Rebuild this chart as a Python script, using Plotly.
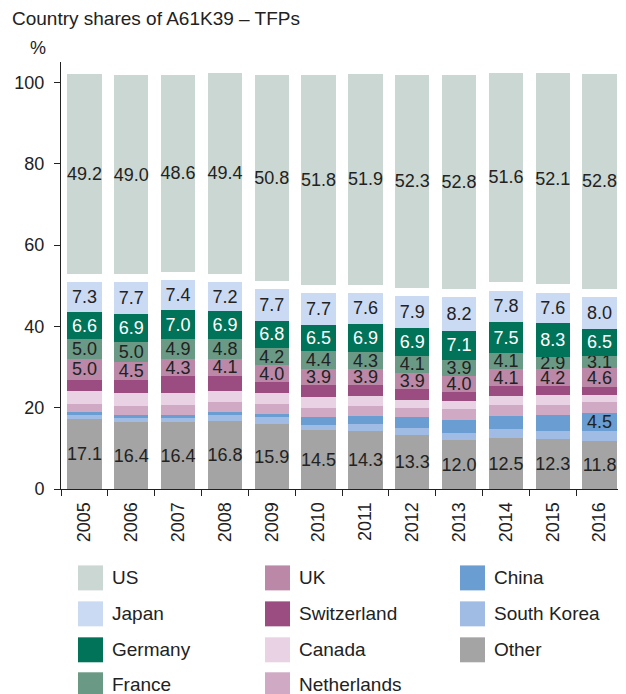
import plotly.graph_objects as go

# ---------------- data ----------------
years = ["2005", "2006", "2007", "2008", "2009", "2010",
         "2011", "2012", "2013", "2014", "2015", "2016"]

other       = [17.1, 16.4, 16.4, 16.8, 15.9, 14.5, 14.3, 13.3, 12.0, 12.5, 12.3, 11.8]
south_korea = [1.2, 1.1, 1.1, 1.4, 1.9, 1.3, 1.6, 1.6, 1.7, 2.2, 2.0, 2.5]
china       = [0.6, 0.6, 0.7, 0.7, 0.7, 1.9, 2.0, 2.8, 3.2, 3.3, 3.9, 4.5]
netherlands = [2.1, 2.4, 2.5, 2.5, 2.5, 2.2, 2.5, 2.1, 2.7, 2.7, 2.5, 2.6]
canada      = [3.2, 3.2, 3.0, 2.7, 2.5, 2.7, 2.4, 2.2, 2.0, 2.2, 2.5, 1.8]
switzerland = [2.7, 3.0, 4.0, 3.8, 2.9, 3.0, 2.7, 2.7, 2.3, 2.4, 2.1, 1.9]
uk          = [5.0, 4.5, 4.3, 4.1, 4.0, 3.9, 3.9, 3.9, 4.0, 4.1, 4.2, 4.6]
france      = [5.0, 5.0, 4.9, 4.8, 4.2, 4.4, 4.3, 4.1, 3.9, 4.1, 2.9, 3.1]
germany     = [6.6, 6.9, 7.0, 6.9, 6.8, 6.5, 6.9, 6.9, 7.1, 7.5, 8.3, 6.5]
japan       = [7.3, 7.7, 7.4, 7.2, 7.7, 7.7, 7.6, 7.9, 8.2, 7.8, 7.6, 8.0]
us          = [49.2, 49.0, 48.6, 49.4, 50.8, 51.8, 51.9, 52.3, 52.8, 51.6, 52.1, 52.8]

y_ticks = [0, 20, 40, 60, 80, 100]

# ---------------- style ----------------
FONT = "Liberation Sans, Arial, Helvetica, sans-serif"
TXT = "#222222"
FS = 18
FS_BIG = 19
OFF = 8  # the page body adds an 8px margin; work in window pixels and subtract it
WIN_W, WIN_H = 626, 694
FIG_W, FIG_H = WIN_W - OFF, WIN_H - OFF
# plot area in window pixels
PL, PR, PT, PB = 61, 623, 62, 489.5
ML, MR = PL - OFF, WIN_W - PR
MT, MB = PT - OFF, WIN_H - PB
PW = PR - PL
PH = PB - PT
Y_MAX = 105
US_GAP = 2.0  # visual separation between the stack and the US block

# stacked order bottom -> top (name, values, color, label mode, text color)
stack = [
    ("Other", other, "#a3a4a3", "all", TXT),
    ("South Korea", south_korea, "#a0bce4", "none", TXT),
    ("China", china, "#6a9dd2", "big", TXT),
    ("Netherlands", netherlands, "#d0a9c4", "none", TXT),
    ("Canada", canada, "#e8d2e3", "none", TXT),
    ("Switzerland", switzerland, "#9b4c80", "none", TXT),
    ("UK", uk, "#bb88a8", "all", TXT),
    ("France", france, "#6a9a86", "all", TXT),
    ("Germany", germany, "#007358", "all", "#ffffff"),
    ("Japan", japan, "#cbdaf3", "all", TXT),
]
us_color = "#cbd7d2"

def labels(vals, mode):
    if mode == "all":
        return [f"{v:.1f}" for v in vals]
    if mode == "big":
        return [f"{v:.1f}" if v >= 4.4 else "" for v in vals]
    return ["" for _ in vals]

fig = go.Figure()
BAR_W = 0.73
for name, vals, col, mode, tcol in stack:
    fig.add_trace(go.Bar(
        x=years, y=vals, name=name, marker=dict(color=col, line=dict(width=0)),
        width=BAR_W, text=labels(vals, mode), textposition="inside",
        insidetextanchor="middle", textangle=0, constraintext="none",
        textfont=dict(family=FONT, size=FS, color=tcol),
        showlegend=False, hoverinfo="x+y+name"))

totals = [sum(s[1][i] for s in stack) for i in range(len(years))]
us_base = [t + US_GAP for t in totals]
fig.add_trace(go.Bar(
    x=years, y=us, base=us_base, name="US",
    marker=dict(color=us_color, line=dict(width=0)), width=BAR_W,
    text=labels(us, "all"), textposition="inside", insidetextanchor="middle",
    textangle=0, constraintext="none",
    textfont=dict(family=FONT, size=FS, color=TXT),
    showlegend=False, hoverinfo="x+y+name"))

# ---------------- manual legend (column-major, 3 columns) ----------------
legend_items = [
    ("US", us_color), ("Japan", "#cbdaf3"), ("Germany", "#007358"), ("France", "#6a9a86"),
    ("UK", "#bb88a8"), ("Switzerland", "#9b4c80"), ("Canada", "#e8d2e3"), ("Netherlands", "#d0a9c4"),
    ("China", "#6a9dd2"), ("South Korea", "#a0bce4"), ("Other", "#a3a4a3"),
]
col_x = [78, 265, 460]          # window px
row_top = [566, 602, 638, 673]  # window px
SW = 25

def pxx(p):
    return (p - PL) / PW

def pxy(p):
    return (PB - p) / PH

shapes = []
annotations = []
for i, (nm, col) in enumerate(legend_items):
    c, r = divmod(i, 4)
    x0, y0 = col_x[c], row_top[r]
    shapes.append(dict(type="rect", xref="paper", yref="paper",
                       x0=pxx(x0), x1=pxx(x0 + SW), y0=pxy(y0 + SW), y1=pxy(y0),
                       fillcolor=col, line=dict(width=0), layer="above"))
    annotations.append(dict(xref="paper", yref="paper", x=pxx(x0 + 32), y=pxy(y0 + SW / 2),
                            text=nm, showarrow=False, xanchor="left", yanchor="middle",
                            font=dict(family=FONT, size=FS_BIG, color=TXT)))

# "%" unit label
annotations.append(dict(xref="paper", yref="paper", x=pxx(38), y=pxy(48),
                        text="%", showarrow=False, xanchor="center", yanchor="middle",
                        font=dict(family=FONT, size=FS, color=TXT)))

fig.update_layout(
    width=FIG_W, height=FIG_H,
    margin=dict(l=ML, r=MR, t=MT, b=MB, autoexpand=False),
    paper_bgcolor="white", plot_bgcolor="white",
    barmode="stack", bargap=0.27,
    font=dict(family=FONT, size=FS, color=TXT),
    title=dict(text="Country shares of A61K39 – TFPs", xref="container", yref="container",
               x=(12 - OFF) / FIG_W, xanchor="left", y=1 - (18 - OFF) / FIG_H, yanchor="middle",
               font=dict(family=FONT, size=FS_BIG, color=TXT)),
    uniformtext=dict(minsize=FS, mode="show"),
    shapes=shapes, annotations=annotations,
    showlegend=False,
)
fig.update_yaxes(range=[0, Y_MAX], tickvals=y_ticks, showgrid=False, zeroline=False,
                 showline=True, linecolor=TXT, linewidth=1, ticks="outside",
                 ticklen=6, tickcolor=TXT, ticklabelstandoff=6,
                 tickfont=dict(family=FONT, size=FS, color=TXT))
fig.update_xaxes(showgrid=False, showline=True, linecolor=TXT, linewidth=1,
                 ticks="outside", tickson="boundaries", ticklen=6, tickcolor=TXT,
                 tickangle=-90, ticklabelstandoff=5,
                 tickfont=dict(family=FONT, size=FS, color=TXT))

fig.write_html("out.html")
